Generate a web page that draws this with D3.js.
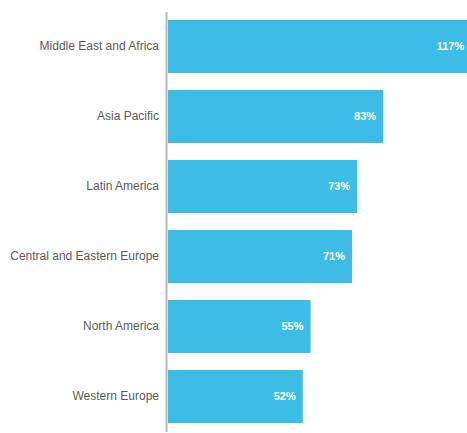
<!DOCTYPE html>
<html>
<head>
<meta charset="utf-8">
<script src="https://cdn.jsdelivr.net/npm/d3@7"></script>
<style>
  html, body { margin: 0; padding: 0; background: #ffffff; }
  svg { display: block; }
</style>
</head>
<body>
<svg id="chart" width="467" height="433"></svg>
<script>
// Regions, ordered top to bottom, and their growth percentages
const regions = [
  "Middle East and Africa",
  "Asia Pacific",
  "Latin America",
  "Central and Eastern Europe",
  "North America",
  "Western Europe"
];
const growth = [117, 83, 73, 71, 55, 52];

const W = 467, H = 433;
const svg = d3.select("#chart");

const y = d3.scaleBand()
  .domain(regions)
  .range([11.5, 431.5])
  .paddingInner(0.243)
  .paddingOuter(0.1215);

const x = d3.scaleLinear()
  .domain([0, 120])
  .range([168, 168 + 311]);

const rows = regions.map((r, i) => ({ region: r, value: growth[i] }));

// Bars
svg.append("g")
  .selectAll("rect")
  .data(rows)
  .join("rect")
  .attr("x", x(0))
  .attr("y", d => y(d.region))
  .attr("width", d => x(d.value) - x(0))
  .attr("height", y.bandwidth())
  .attr("fill", "#3bbde5");

// Value labels inside the bar ends
svg.append("g")
  .selectAll("text")
  .data(rows)
  .join("text")
  .attr("x", d => x(d.value) - 7)
  .attr("y", d => y(d.region) + y.bandwidth() / 2)
  .attr("dy", "0.35em")
  .attr("text-anchor", "end")
  .attr("fill", "#ffffff")
  .style("font-family", "'Liberation Sans', Arial, sans-serif")
  .style("font-weight", "bold")
  .style("font-size", "11px")
  .text(d => d.value + "%");

// Category axis
const axis = d3.axisLeft(y).tickSize(0).tickPadding(7);
const gAxis = svg.append("g")
  .attr("transform", "translate(166,0)")
  .call(axis);
gAxis.select(".domain")
  .attr("stroke", "#b8b8b8")
  .attr("stroke-width", 2);
gAxis.selectAll(".tick text")
  .attr("fill", "#5a5a5a")
  .style("font-family", "'Liberation Sans', Arial, sans-serif")
  .style("font-size", "12px");
</script>
</body>
</html>
